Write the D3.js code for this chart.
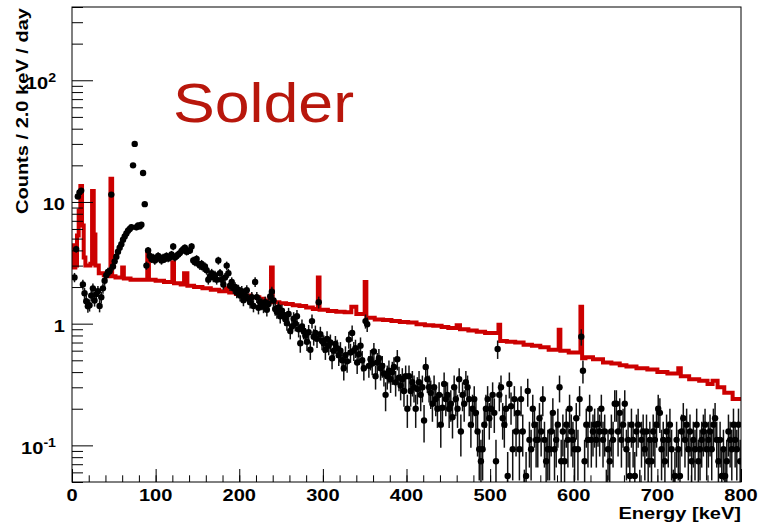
<!DOCTYPE html>
<html>
<head>
  <meta charset="utf-8">
  <title>Solder spectrum</title>
  <script src="https://d3js.org/d3.v7.min.js"></script>
  <style>
    body { margin: 0; background: #fff; }
    text { font-family: "Liberation Sans", Arial, Helvetica, sans-serif; }
  </style>
</head>
<body>
<div id="chart"></div>
<script>
  // Measured spectrum: 2 keV bins, centres at 1, 3, 5 ... 799 keV, in counts / 2 keV / day.
  // null = empty bin. Live time gives the Poisson error bars.
  const binWidth = 2.0;
  const liveDays = 54;
  const dataRate = [
    null, 2.4, 4.1, 11.1, 12.0, 12.4, 2.1, 1.78, 1.53, 1.39,
    1.42, 1.7, 1.95, 1.55, 1.75, 1.85, 1.4, 1.65, 1.95, 2.25,
    2.5, 2.66, 2.7, 11.5, 2.95, 3.25, 3.55, 3.9, 4.2, 4.5,
    4.9, 5.2, 5.5, 5.8, 6.0, 6.2, 20.0, 30.0, 6.2, 6.4,
    6.3, 6.5, 17.3, 9.6, 3.0, 4.0, 3.6, 3.4, 3.5, 3.3,
    3.4, 3.6, 3.5, 3.3, 3.5, 3.4, 3.6, 3.45, 3.5, 3.7,
    4.3, 3.5, 3.6, 3.7, 3.8, 3.95, 4.1, 4.2, 3.9, 3.95,
    4.0, 4.3, 3.3, 3.2, 3.4, 3.1, 3.0, 3.1, 2.9, 2.95,
    2.75, 2.3, 2.45, 2.6, 2.4, 2.5, 2.3, 3.3, 2.6, 2.3,
    2.1, 2.4, 3.0, 2.6, 2.05, 2.2, 1.95, 2.0, 1.8, 1.9,
    1.7, 1.85, 1.56, 1.7, 1.88, 1.6, 1.5, 1.65, 1.4, 2.2,
    1.65, 1.35, 1.5, 1.45, 1.38, 1.5, 1.3, 1.45, 1.67, 1.83,
    1.55, 1.32, 1.25, 1.36, 1.15, 1.28, 1.18, 1.1, 1.01, 1.2,
    0.87, 0.95, 1.1, 1.0, 1.15, 0.9, 0.69, 0.95, 0.87, 0.8,
    0.71, 0.85, 0.61, 1.05, 0.78, 0.84, 0.75, 1.5, 0.82, 0.72,
    0.69, 0.61, 0.75, 0.66, 0.7, 0.52, 0.6, 0.68, 0.63, 0.55,
    0.6, 0.5, 0.43, 0.55, 0.49, 0.74, 0.58, 0.84, 0.6, 0.63,
    0.48, 0.56, 0.66, 0.5, 0.43, 1.05, 0.99, 0.45, 0.51, 0.47,
    0.59, 0.37, 0.48, 0.52, 0.43, 0.45, 0.39, 0.26, 0.37, 0.41,
    0.35, 0.4, 0.44, 0.33, 0.51, 0.36, 0.31, 0.35, 0.28, 0.37,
    0.2, 0.37, 0.28, 0.33, 0.3, 0.2, 0.29, 0.33, 0.26, 0.3,
    0.16, 0.44, 0.35, 0.3, 0.27, 0.22, 0.3, 0.24, 0.2, 0.26,
    0.148, 0.204, 0.32, 0.24, 0.26, 0.2, 0.22, 0.17, 0.3, 0.24,
    0.2, 0.35, 0.13, 0.26, 0.22, 0.33, 0.3, 0.24, 0.148, 0.2,
    0.24, 0.185, 0.13, 0.093, 0.074, 0.093, 0.148, 0.2, 0.24, 0.167,
    0.2, 0.26, 0.185, 0.074, 0.62, 0.26, 0.3, 0.167, 0.148, 0.2,
    0.056, 0.32, 0.21, 0.093, 0.24, 0.13, 0.185, 0.093, 0.24, 0.13,
    0.037, 0.056, 0.28, 0.111, 0.093, 0.2, 0.148, 0.111, 0.111, 0.167,
    0.13, 0.24, 0.111, 0.074, 0.093, 0.093, 0.13, 0.185, 0.093, 0.111,
    0.148, 0.3, 0.074, 0.13, 0.074, 0.148, 0.111, 0.2, 0.13, 0.111,
    0.093, 0.167, 0.093, 0.24, 0.78, 0.41, 0.074, 0.148, 0.111, 0.2,
    0.111, 0.13, 0.148, 0.111, 0.15, 0.13, 0.2, 0.111, 0.13, 0.037,
    0.093, 0.074, 0.13, 0.111, 0.22, 0.22, 0.13, 0.185, 0.111, 0.148,
    0.22, 0.093, 0.111, 0.056, 0.148, 0.111, 0.056, 0.13, 0.148, 0.037,
    0.111, 0.13, 0.093, 0.13, 0.074, 0.111, 0.074, 0.13, 0.111, 0.148,
    0.2, 0.185, 0.093, 0.111, 0.074, 0.13, 0.111, 0.148, 0.093, 0.037,
    0.056, 0.111, 0.093, 0.056, 0.13, 0.167, 0.111, 0.148, 0.093, 0.13,
    0.074, 0.111, 0.093, 0.148, 0.074, 0.093, 0.111, 0.13, 0.148, 0.093,
    0.111, 0.13, 0.093, 0.148, 0.167, 0.111, 0.074, 0.111, 0.056, 0.093,
    0.056, 0.074, 0.13, 0.111, 0.093, 0.148, 0.111, 0.093, 0.148, 0.074
  ];

  // Simulated background (red histogram): [lower bin edge keV, counts / 2 keV / day]
  const mcEnd = 800;
  const mcSteps = [
    [0, 4.4], [2, 2.9], [4, 3.0], [6, 5.3], [8, 8.5], [10, 13.5], [12, 6.4], [14, 3.5],
    [16, 3.0], [22, 3.1], [24, 12.3], [26, 5.4], [28, 3.0], [32, 2.6], [38, 2.5], [44, 2.45],
    [46, 15.5], [48, 2.45], [52, 2.4], [60, 2.9], [62, 2.35], [70, 2.3], [80, 2.3], [90, 3.75],
    [92, 2.3], [100, 2.25], [110, 2.2], [120, 3.2], [122, 2.15], [130, 2.1], [134, 2.6], [138, 2.05],
    [146, 2.0], [156, 1.95], [166, 1.9], [176, 1.85], [184, 1.95], [188, 1.8], [196, 1.75], [204, 1.7],
    [214, 1.65], [224, 1.6], [230, 1.55], [238, 2.9], [240, 1.5], [248, 1.47], [256, 1.45], [264, 1.42],
    [272, 1.4], [280, 1.36], [288, 1.32], [294, 2.4], [296, 1.3], [306, 1.27], [316, 1.25], [326, 1.24],
    [334, 1.38], [340, 1.2], [350, 2.2], [352, 1.12], [362, 1.08], [372, 1.07], [382, 1.05], [392, 1.03],
    [402, 1.02], [412, 0.99], [422, 0.97], [432, 0.96], [442, 0.94], [450, 0.92], [460, 0.97], [464, 0.9],
    [474, 0.88], [484, 0.86], [494, 0.84], [510, 0.98], [512, 0.72], [520, 0.71], [530, 0.7], [540, 0.67],
    [550, 0.66], [560, 0.64], [570, 0.61], [582, 0.89], [584, 0.6], [594, 0.58], [608, 1.38], [610, 0.52],
    [614, 0.53], [623, 0.51], [635, 0.48], [645, 0.47], [655, 0.455], [663, 0.445], [675, 0.43], [688, 0.42],
    [700, 0.4], [712, 0.39], [725, 0.43], [728, 0.37], [738, 0.35], [750, 0.34], [760, 0.32], [766, 0.34],
    [772, 0.3], [780, 0.27], [790, 0.24]
  ];

  const xMajor = d3.range(0, 801, 100);
  const xMinor = d3.range(0, 801, 20);
  const yDecades = [0.1, 1, 10, 100];
  const yLabels = [
    {v: 100, base: "10", exp: "2"},
    {v: 10, base: "10"},
    {v: 1, base: "1"},
    {v: 0.1, base: "10", exp: "-1"}
  ];

  const W = 759, H = 527;
  const margin = {top: 7, right: 18, bottom: 45, left: 72};
  const stretch = 1.18;   // the ROOT fonts are wider than Helvetica

  const x = d3.scaleLinear().domain([0, 800]).range([margin.left, W - margin.right]);
  const y = d3.scaleLog().domain([0.05, 400]).range([H - margin.bottom, margin.top]);

  const svg = d3.select("#chart").append("svg")
    .attr("width", W)
    .attr("height", H);

  svg.append("rect").attr("width", W).attr("height", H).attr("fill", "#fff");

  svg.append("clipPath").attr("id", "frameClip")
    .append("rect")
    .attr("x", margin.left).attr("y", margin.top)
    .attr("width", W - margin.left - margin.right)
    .attr("height", H - margin.top - margin.bottom);

  const plot = svg.append("g").attr("clip-path", "url(#frameClip)");

  // red MC histogram
  const stepPts = mcSteps.concat([[mcEnd, mcSteps[mcSteps.length - 1][1]]]);
  const stepLine = d3.line()
    .x(d => x(d[0]))
    .y(d => y(d[1]))
    .curve(d3.curveStepAfter);

  plot.append("path")
    .attr("d", stepLine(stepPts))
    .attr("fill", "none")
    .attr("stroke", "#cc0000")
    .attr("stroke-width", 4);

  // data points with Poisson errors
  const pts = dataRate
    .map((v, i) => ({e: binWidth * i + binWidth / 2, v: v}))
    .filter(d => d.v != null);

  pts.forEach(d => { d.err = Math.sqrt(d.v / liveDays); });

  plot.selectAll(".ebar")
    .data(pts)
    .enter().append("line")
    .attr("class", "ebar")
    .attr("x1", d => x(d.e))
    .attr("x2", d => x(d.e))
    .attr("y1", d => y(Math.max(d.v - d.err, 0.01)))
    .attr("y2", d => y(d.v + d.err))
    .attr("stroke", "#111")
    .attr("stroke-width", 1.5);

  plot.selectAll(".pt")
    .data(pts.filter(d => d.v >= 0.05))
    .enter().append("circle")
    .attr("class", "pt")
    .attr("cx", d => x(d.e))
    .attr("cy", d => y(d.v))
    .attr("r", 3.2)
    .attr("fill", "#000");

  // frame
  svg.append("rect")
    .attr("x", margin.left).attr("y", margin.top)
    .attr("width", W - margin.left - margin.right)
    .attr("height", H - margin.top - margin.bottom)
    .attr("fill", "none")
    .attr("stroke", "#000")
    .attr("stroke-width", 1);

  // ticks (inside the frame, as ROOT does)
  function tickAxis(axis, tx, ty) {
    svg.append("g")
      .attr("transform", "translate(" + tx + "," + ty + ")")
      .call(axis)
      .call(g => g.select(".domain").remove())
      .call(g => g.selectAll("line").attr("stroke", "#000"));
  }
  const yBottom = H - margin.bottom;
  tickAxis(d3.axisBottom(x).tickValues(xMinor).tickSize(-6.7).tickFormat(""), 0, yBottom);
  tickAxis(d3.axisBottom(x).tickValues(xMajor).tickSize(-13).tickFormat(""), 0, yBottom);

  const yMinor = [];
  [0.01, 0.1, 1, 10, 100].forEach(dec => {
    d3.range(2, 10).forEach(m => {
      const v = dec * m;
      if (v >= 0.05 && v <= 400) yMinor.push(v);
    });
  });
  tickAxis(d3.axisLeft(y).tickValues(yMinor).tickSize(-11).tickFormat(""), margin.left, 0);
  tickAxis(d3.axisLeft(y).tickValues(yDecades).tickSize(-21).tickFormat(""), margin.left, 0);

  // tick labels
  svg.selectAll(".xlab")
    .data(xMajor)
    .enter().append("text")
    .attr("class", "xlab")
    .attr("transform", d => "translate(" + x(d) + ",501) scale(" + stretch + ",1)")
    .attr("text-anchor", "middle")
    .style("font-size", "17px")
    .style("font-weight", "bold")
    .text(d => d);

  const ylab = svg.selectAll(".ylab")
    .data(yLabels)
    .enter().append("text")
    .attr("class", "ylab")
    .attr("transform", d => "translate(" + (d.exp ? 56 : 65) + "," + (y(d.v) + 8.5) + ") scale(" + stretch + ",1)")
    .attr("text-anchor", "end")
    .style("font-size", "17px")
    .style("font-weight", "bold");
  ylab.append("tspan").text(d => d.base);
  ylab.filter(d => d.exp).append("tspan")
    .attr("dy", -7)
    .style("font-size", "12px")
    .text(d => d.exp);

  // axis titles
  svg.append("text")
    .attr("transform", "translate(741,519) scale(" + stretch + ",1)")
    .attr("text-anchor", "end")
    .style("font-size", "17px")
    .style("font-weight", "bold")
    .text("Energy [keV]");

  svg.append("text")
    .attr("transform", "translate(27.5,8) rotate(-90) scale(" + stretch + ",1)")
    .attr("text-anchor", "end")
    .style("font-size", "17px")
    .style("font-weight", "bold")
    .text("Counts / 2.0 keV / day");

  // sample label
  svg.append("text")
    .attr("x", 173)
    .attr("y", 122)
    .attr("textLength", 181)
    .attr("lengthAdjust", "spacingAndGlyphs")
    .style("font-size", "56px")
    .style("fill", "#b8170c")
    .text("Solder");
</script>
</body>
</html>
